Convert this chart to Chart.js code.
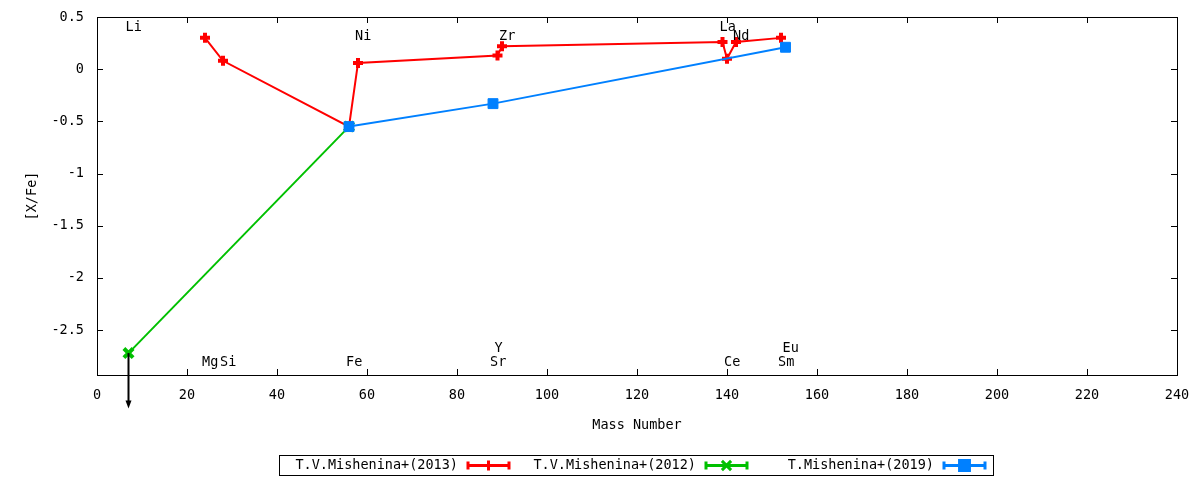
<!DOCTYPE html>
<html>
<head>
<meta charset="utf-8">
<script src="https://cdn.jsdelivr.net/npm/chart.js@4.4.1/dist/chart.umd.min.js"></script>
<style>
  html, body { margin: 0; padding: 0; background: #fff; }
</style>
</head>
<body>
<canvas id="chart" width="1200" height="480"></canvas>
<script>
const FONT_FAMILY = '"DejaVu Sans Mono", "Liberation Mono", monospace';
const FONT_SIZE = 13.5;

// [X/Fe] vs mass number
const mass2013 = [24, 28, 56, 58, 89, 90, 139, 140, 142, 152];
const xfe2013 = [0.30, 0.08, -0.55, 0.06, 0.13, 0.22, 0.26, 0.10, 0.26, 0.30];
const mass2012 = [7, 56];
const xfe2012 = [-2.72, -0.55];
const mass2019 = [56, 88, 153];
const xfe2019 = [-0.55, -0.33, 0.21];

const seriesLabels = ['T.V.Mishenina+(2013)', 'T.V.Mishenina+(2012)', 'T.Mishenina+(2019)'];
const seriesColors = ['#ff0000', '#00c000', '#0080ff'];

// upper limit on Li (arrow pointing down)
const limitMass = [7];
const limitFrom = [-2.72];
const limitTo = [-3.25];

// element name labels placed in data coordinates
const elemNames = ['Li', 'Ni', 'Zr', 'La', 'Nd', 'Mg', 'Si', 'Fe', 'Sr', 'Y', 'Ce', 'Sm', 'Eu'];
const elemMass = [7, 58, 90, 139, 142, 24, 28, 56, 88, 89, 140, 152, 153];
const elemY = [0.40, 0.31, 0.31, 0.40, 0.31, -2.81, -2.81, -2.81, -2.81, -2.68, -2.81, -2.81, -2.68];

const xTicks = [0, 20, 40, 60, 80, 100, 120, 140, 160, 180, 200, 220, 240];
const yTicks = [-2.5, -2, -1.5, -1, -0.5, 0, 0.5];

const toPoints = (xs, ys) => xs.map((x, i) => ({ x: x, y: ys[i] }));

const markers = [
  { pointStyle: 'cross', radius: 5, borderWidth: 4 },
  { pointStyle: 'crossRot', radius: 6.5, borderWidth: 4 },
  { pointStyle: 'rect', radius: 7, borderWidth: 1 }
];

const seriesData = [
  toPoints(mass2013, xfe2013),
  toPoints(mass2012, xfe2012),
  toPoints(mass2019, xfe2019)
];

const font = { family: FONT_FAMILY, size: FONT_SIZE };

// gnuplot style frame, inward ticks, labels, arrow and legend
const gnuplotDecor = {
  id: 'gnuplotDecor',
  afterDraw(chart) {
    const { ctx, chartArea: a, scales: { x, y } } = chart;
    ctx.save();

    // element labels
    ctx.fillStyle = '#000';
    ctx.font = FONT_SIZE + 'px ' + FONT_FAMILY;
    ctx.textAlign = 'left';
    ctx.textBaseline = 'middle';
    elemNames.forEach((name, i) => {
      ctx.fillText(name, x.getPixelForValue(elemMass[i]) - 3, y.getPixelForValue(elemY[i]));
    });

    // frame
    ctx.strokeStyle = '#000';
    ctx.lineWidth = 1;
    ctx.strokeRect(a.left + 0.5, a.top + 0.5, a.right - a.left, a.bottom - a.top);

    // mirrored inward ticks
    const tl = 6;
    ctx.beginPath();
    xTicks.forEach(v => {
      const px = Math.round(x.getPixelForValue(v)) + 0.5;
      ctx.moveTo(px, a.bottom); ctx.lineTo(px, a.bottom - tl);
      ctx.moveTo(px, a.top); ctx.lineTo(px, a.top + tl);
    });
    yTicks.forEach(v => {
      const py = Math.round(y.getPixelForValue(v)) + 0.5;
      ctx.moveTo(a.left, py); ctx.lineTo(a.left + tl, py);
      ctx.moveTo(a.right, py); ctx.lineTo(a.right - tl, py);
    });
    ctx.stroke();

    // upper limit arrows
    ctx.strokeStyle = '#000';
    ctx.fillStyle = '#000';
    ctx.lineWidth = 2;
    limitMass.forEach((m, i) => {
      const px = x.getPixelForValue(m);
      const y0 = y.getPixelForValue(limitFrom[i]);
      const y1 = y.getPixelForValue(limitTo[i]);
      ctx.beginPath();
      ctx.moveTo(px, y0);
      ctx.lineTo(px, y1 - 6);
      ctx.stroke();
      ctx.beginPath();
      ctx.moveTo(px, y1);
      ctx.lineTo(px - 3, y1 - 8);
      ctx.lineTo(px + 3, y1 - 8);
      ctx.closePath();
      ctx.fill();
    });

    // legend box
    const boxLeft = 279, boxTop = 455, boxW = 714, boxH = 20, entryW = 238;
    ctx.lineWidth = 1;
    ctx.strokeStyle = '#000';
    ctx.strokeRect(boxLeft + 0.5, boxTop + 0.5, boxW, boxH);
    const cy = boxTop + boxH / 2 + 0.5;
    chart.data.datasets.forEach((ds, i) => {
      const textRight = boxLeft + 179 + i * entryW;
      ctx.fillStyle = '#000';
      ctx.textAlign = 'right';
      ctx.textBaseline = 'middle';
      ctx.fillText(ds.label, textRight, cy);
      const s0 = textRight + 9, s1 = textRight + 52;
      ctx.strokeStyle = ds.borderColor;
      ctx.fillStyle = ds.borderColor;
      ctx.lineWidth = 3;
      ctx.beginPath();
      ctx.moveTo(s0, cy); ctx.lineTo(s1, cy);
      ctx.moveTo(s0 + 1, cy - 4); ctx.lineTo(s0 + 1, cy + 4);
      ctx.moveTo(s1 - 1, cy - 4); ctx.lineTo(s1 - 1, cy + 4);
      ctx.stroke();
      Chart.helpers.drawPoint(ctx, markers[i], (s0 + s1) / 2, cy);
    });

    ctx.restore();
  }
};

new Chart(document.getElementById('chart'), {
  type: 'line',
  data: {
    datasets: seriesData.map((pts, i) => ({
      label: seriesLabels[i],
      data: pts,
      borderColor: seriesColors[i],
      backgroundColor: seriesColors[i],
      borderWidth: 2,
      pointStyle: markers[i].pointStyle,
      pointRadius: markers[i].radius,
      pointBorderWidth: markers[i].borderWidth,
      pointHoverRadius: markers[i].radius,
      tension: 0,
      fill: false,
      order: 2 - i
    }))
  },
  options: {
    responsive: false,
    animation: false,
    layout: { padding: { left: 0, right: 23, top: 17, bottom: 45 } },
    plugins: {
      legend: { display: false },
      tooltip: { enabled: false }
    },
    scales: {
      x: {
        type: 'linear',
        min: 0,
        max: 240,
        afterBuildTicks: s => { s.ticks = xTicks.map(v => ({ value: v })); },
        afterFit: s => { s.height = 60; s.paddingLeft = 0; s.paddingRight = 0; },
        grid: { display: false, drawTicks: false },
        border: { display: false },
        ticks: { font: font, color: '#000', padding: 12, maxRotation: 0, autoSkip: false, callback: v => String(v) },
        title: { display: true, text: 'Mass Number', font: font, color: '#000', padding: { top: 0, bottom: 1 } }
      },
      y: {
        type: 'linear',
        min: -2.93,
        max: 0.5,
        afterBuildTicks: s => { s.ticks = yTicks.map(v => ({ value: v })); },
        afterFit: s => { s.width = 97; s.paddingTop = 0; s.paddingBottom = 0; },
        grid: { display: false, drawTicks: false },
        border: { display: false },
        ticks: { font: font, color: '#000', padding: 13, autoSkip: false, callback: v => String(v) },
        title: { display: true, text: '[X/Fe]', font: font, color: '#000', padding: { top: 24, bottom: 0 } }
      }
    }
  },
  plugins: [gnuplotDecor]
});
</script>
</body>
</html>
